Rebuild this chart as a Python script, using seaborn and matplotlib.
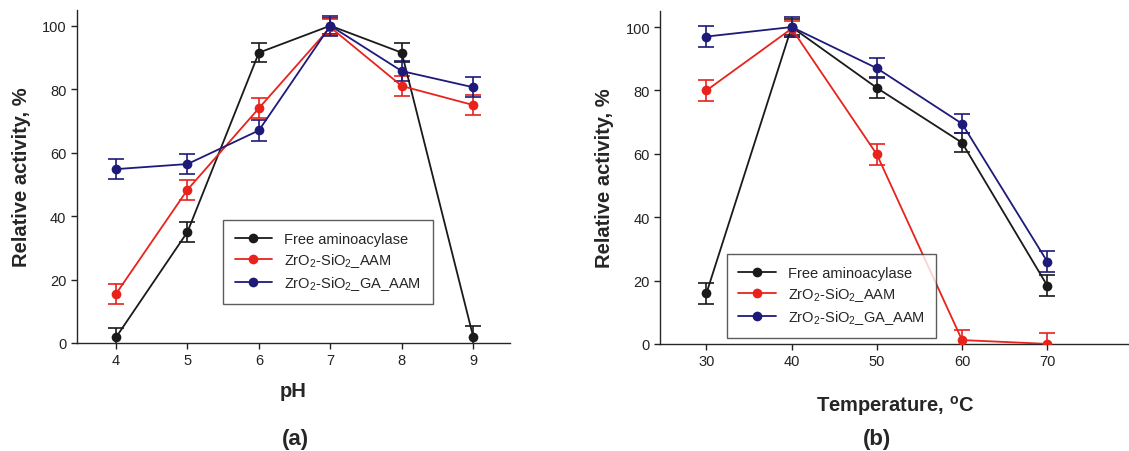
import numpy as np
import pandas as pd
import matplotlib
matplotlib.use("Agg")
import matplotlib.pyplot as plt
import seaborn as sns

# ---------------------------------------------------------------------
# Data
# ---------------------------------------------------------------------
series_names = ["Free aminoacylase", "ZrO$_2$-SiO$_2$_AAM", "ZrO$_2$-SiO$_2$_GA_AAM"]
colors = ["#1a1a1a", "#e8231c", "#1e1a7a"]

ph = [4, 5, 6, 7, 8, 9]
ph_free = [1.8, 35.0, 91.5, 100.0, 91.5, 2.0]
ph_zr = [15.5, 48.3, 74.0, 99.5, 81.0, 75.0]
ph_ga = [54.8, 56.4, 67.0, 100.0, 85.7, 80.6]
ph_free_err = [3.0, 3.2, 3.0, 2.5, 3.0, 3.2]
ph_zr_err = [3.2, 3.2, 3.2, 2.5, 3.2, 3.2]
ph_ga_err = [3.2, 3.2, 3.2, 3.2, 3.2, 3.2]

temp = [30, 40, 50, 60, 70]
t_free = [16.0, 100.0, 80.8, 63.5, 18.4]
t_zr = [80.0, 99.5, 59.8, 1.2, 0.0]
t_ga = [97.0, 100.0, 87.0, 69.5, 26.0]
t_free_err = [3.3, 2.5, 3.3, 3.0, 3.3]
t_zr_err = [3.3, 2.5, 3.3, 3.2, 3.3]
t_ga_err = [3.3, 3.2, 3.2, 3.0, 3.3]


def to_long(x, ys, errs):
    rows = []
    for name, y, e in zip(series_names, ys, errs):
        for xi, yi, ei in zip(x, y, e):
            rows.append({"x": xi, "y": yi, "err": ei, "series": name})
    return pd.DataFrame(rows)


df_ph = to_long(ph, [ph_free, ph_zr, ph_ga], [ph_free_err, ph_zr_err, ph_ga_err])
df_t = to_long(temp, [t_free, t_zr, t_ga], [t_free_err, t_zr_err, t_ga_err])

# ---------------------------------------------------------------------
# Style
# ---------------------------------------------------------------------
sns.set_style("ticks")
plt.rcParams["font.family"] = ["Liberation Sans", "DejaVu Sans"]
plt.rcParams["mathtext.default"] = "regular"
plt.rcParams["axes.linewidth"] = 1.0
plt.rcParams["xtick.major.size"] = 4
plt.rcParams["ytick.major.size"] = 4

fig = plt.figure(figsize=(11.29, 4.52), dpi=100)
ax_a = fig.add_axes([0.068, 0.239, 0.384, 0.737])
ax_b = fig.add_axes([0.585, 0.237, 0.415, 0.736])


def draw_panel(ax, df, xticks, xlim, xlabel, xpad, legend_anchor):
    palette = dict(zip(series_names, colors))
    for name in series_names:
        d = df[df.series == name]
        ax.errorbar(d.x, d.y, yerr=d.err, fmt="none", ecolor=palette[name],
                    elinewidth=1.2, capsize=6, capthick=1.2, zorder=2)
    sns.lineplot(data=df, x="x", y="y", hue="series", hue_order=series_names,
                 palette=palette, marker="o", markersize=7, markeredgewidth=0,
                 linewidth=1.3, ax=ax, zorder=3)
    ax.set_xlim(*xlim)
    ax.set_ylim(0, 105)
    ax.set_xticks(xticks)
    ax.set_yticks([0, 20, 40, 60, 80, 100])
    ax.tick_params(labelsize=10.5, colors="#222222", width=1.0)
    ax.set_xlabel(xlabel, fontsize=14.5, fontweight="bold", labelpad=xpad)
    ax.set_ylabel("Relative activity, %", fontsize=14.5, fontweight="bold", labelpad=8)
    sns.despine(ax=ax)
    leg = ax.legend(loc="upper left", bbox_to_anchor=legend_anchor, fontsize=10.5,
                    frameon=True, fancybox=False, edgecolor="#333333",
                    handlelength=2.6, borderpad=0.8, labelspacing=0.35,
                    handletextpad=0.8, borderaxespad=0)
    leg.get_frame().set_linewidth(1.0)


draw_panel(ax_a, df_ph, ph, (3.45, 9.52), "pH", 10, (0.337, 0.368))
draw_panel(ax_b, df_t, temp, (24.6, 79.6), "Temperature, $^{o}$C", 18, (0.141, 0.27))

fig.text(0.262, 0.015, "(a)", fontsize=16, fontweight="bold", ha="center")
fig.text(0.777, 0.015, "(b)", fontsize=16, fontweight="bold", ha="center")

fig.savefig("out.png", dpi=100)
